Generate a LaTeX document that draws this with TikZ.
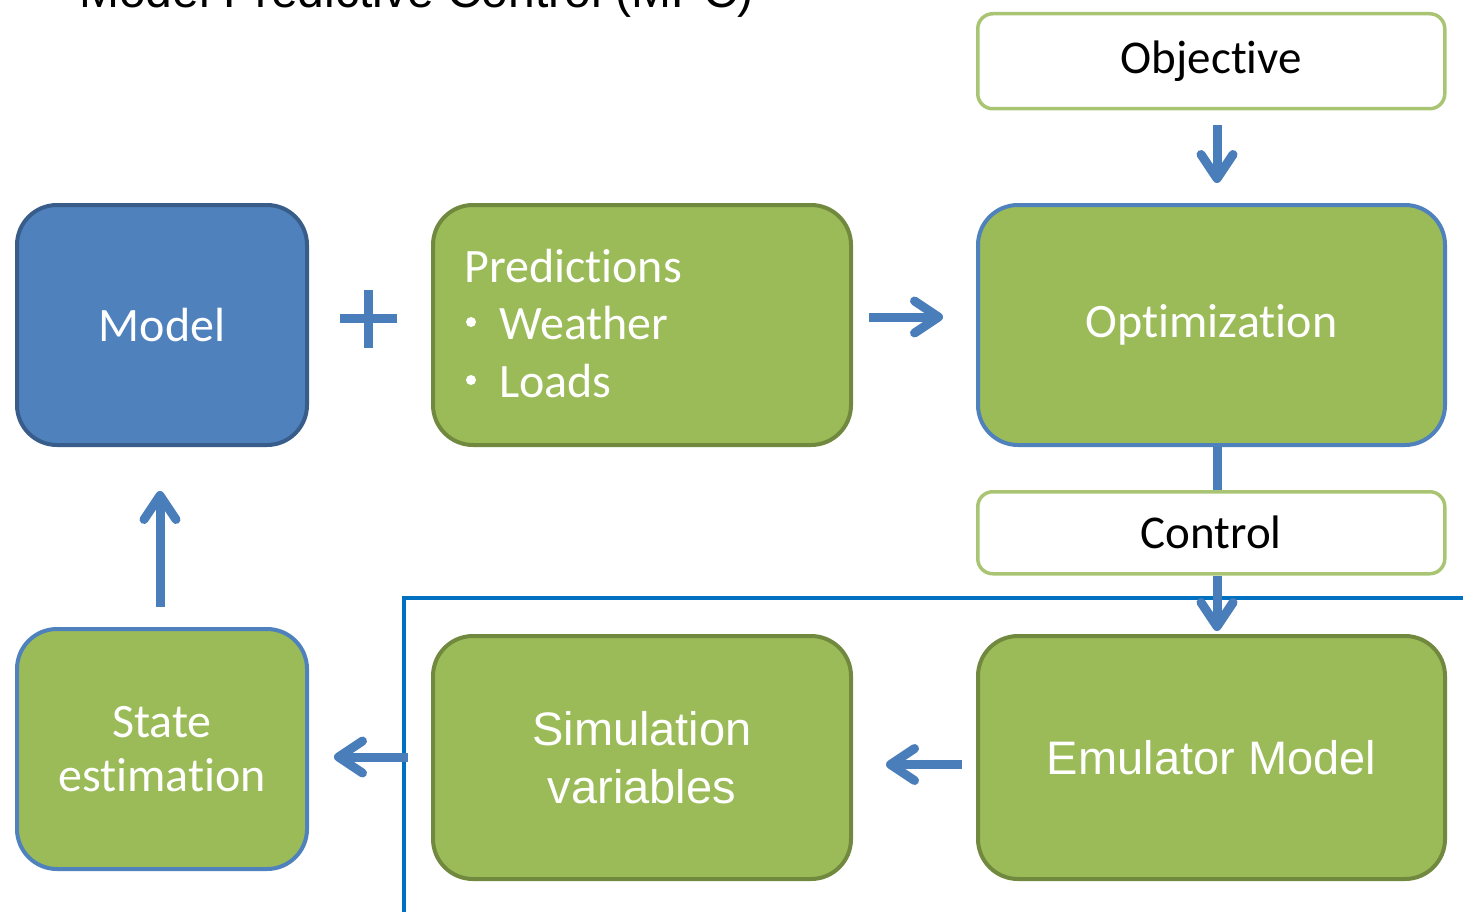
\documentclass[tikz,border=0pt]{standalone}
\usepackage{fontspec}
\setmainfont{Carlito}[RawFeature=-liga]
\newfontfamily\arialfont{Liberation Sans}
\usetikzlibrary{arrows.meta}
\definecolor{mblue}{HTML}{4F81BD}
\definecolor{mbluedark}{HTML}{385D8A}
\definecolor{mgreen}{HTML}{9BBB59}
\definecolor{mgreendark}{HTML}{71893F}
\definecolor{mgreenlight}{HTML}{A9C574}
\definecolor{arrowblue}{HTML}{4A7EBB}
\definecolor{frameblue}{HTML}{0070C0}
\tikzset{
  blk/.style={rounded corners=40pt, line width=4pt, minimum width=#1, inner sep=0pt, anchor=north west, text=white, align=center},
  bluebox/.style={blk=#1, fill=mblue, draw=mbluedark},
  greenbox/.style={blk=#1, fill=mgreen, draw=mgreendark},
  greenblue/.style={blk=#1, fill=mgreen, draw=mblue},
  labelbox/.style={rounded corners=15pt, line width=3.5pt, draw=mgreenlight, fill=white, minimum width=#1, inner sep=0pt, anchor=north west, text=black},
  arr/.style={draw=arrowblue, line width=9pt, -{Straight Barb[length=24pt, width=32pt, line cap=round, line join=round]}},
  bar/.style={draw=arrowblue, line width=9pt},
  big/.style={font=\fontsize{48}{58}\selectfont},
  mid/.style={font=\fontsize{47}{56}\selectfont},
  sans/.style={font=\arialfont\fontsize{47}{58}\selectfont},
  dot/.style={circle, fill=white, inner sep=0pt, minimum size=10pt},
}
\begin{document}
\begin{tikzpicture}[x=1pt, y=-1pt]
\useasboundingbox (0,0) rectangle (1463,912);
\clip (0,0) rectangle (1463,912);

% heading, partly above the page edge
\node[anchor=base west, inner sep=0pt, font=\arialfont\fontsize{48}{56}\selectfont] (title) at (79,8) {Model Predictive Control (MPC)};

% frame around the emulated plant
\draw[frameblue, line width=4.5pt] (1490,598) -- (404,598) -- (404,940);

% blocks
\node[bluebox=290pt, minimum height=240pt, big] (model) at (15,203) {Model};
\node[greenbox=418pt, minimum height=240pt] (pred) at (431,203) {};
\node[greenblue=467pt, minimum height=240pt, big] (opt) at (976,203) {Optimization};
\node[labelbox=467pt, minimum height=95pt, mid] (obj) at (976,12) {Objective};
\node[labelbox=467pt, minimum height=82pt, mid] (ctrl) at (976,490) {Control};
\node[greenblue=290pt, minimum height=240pt, big] (state) at (15,627) {State\\[-4pt]estimation};
\node[greenbox=418pt, minimum height=243pt, sans] (sim) at (431,634) {Simulation\\variables};
\node[greenbox=467pt, minimum height=243pt, sans] (emu) at (976,634) {Emulator Model};

% prediction list
\node[anchor=west, inner sep=0pt, text=white, big] (predhead) at (464,266) {Predictions};
\node[dot] (bw) at (471,322) {};
\node[anchor=west, inner sep=0pt, text=white, big] (predw) at (499,323) {Weather};
\node[dot] (bl) at (471,380) {};
\node[anchor=west, inner sep=0pt, text=white, big] (predl) at (499,381) {Loads};

% plus sign between model and predictions
\coordinate (plus) at (368,318);
\draw[bar, line cap=butt] ([xshift=-28pt]plus) -- ([xshift=29pt]plus);
\draw[bar, line cap=butt] ([yshift=28pt]plus) -- ([yshift=-30pt]plus);

% connectors
\draw[arr, shorten <=16pt, shorten >=33pt] ([yshift=8pt]pred.east) -- ([yshift=8pt]opt.west);
\draw[arr, shorten <=15pt, shorten >=20pt] (obj.south -| 1217,0) -- (opt.north -| 1217,0);
\draw[bar] (opt.south -| 1217,0) -- (ctrl.north -| 1217,0);
\draw[arr, shorten >=3pt] (ctrl.south -| 1217,0) -- (emu.north -| 1217,0);
\draw[arr, shorten <=20pt, shorten >=44pt] (state.north -| 160,0) -- (model.south -| 160,0);
\draw[arr, shorten <=14pt, shorten >=33pt] ([yshift=-7pt]emu.west) -- ([yshift=-7pt]sim.east);
\coordinate (frameout) at (408,757);
\draw[arr, shorten >=25pt] (frameout) -- (state.east |- frameout);
\end{tikzpicture}
\end{document}
